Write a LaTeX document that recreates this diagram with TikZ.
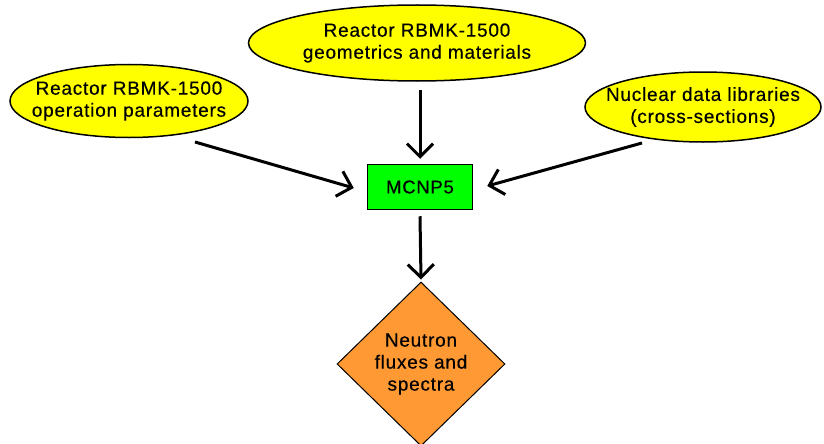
\documentclass[tikz,border=0pt]{standalone}
\usepackage{fontspec}
\setmainfont{Liberation Sans}[LetterSpace=4,FakeBold=0.4]
\usetikzlibrary{shapes.geometric,arrows.meta,calc}
\definecolor{ellfill}{RGB}{255,255,0}
\definecolor{boxfill}{RGB}{0,255,0}
\definecolor{diafill}{RGB}{255,153,51}
\begin{document}
\begin{tikzpicture}[x=1pt,y=-1pt,
  txt/.style={align=center,inner sep=0pt,font=\fontsize{19}{22}\selectfont},
  ell/.style={ellipse,draw=black,line width=1.5pt,fill=ellfill,inner sep=0pt},
  procbox/.style={rectangle,draw=black,line width=1.5pt,fill=boxfill,inner sep=0pt,minimum width=105pt,minimum height=45pt,font=\fontsize{18.5}{20}\selectfont},
  result/.style={diamond,draw=black,line width=1pt,fill=diafill,inner sep=0pt,minimum width=168pt,minimum height=164pt},
  flow/.style={line width=3pt,-{Straight Barb[length=13pt,width=26pt]}}]
\clip (0,0) rectangle (824,444);
\fill[white] (0,0) rectangle (824,444);
\node[ell,minimum width=238pt,minimum height=73pt,label={[txt]center:Reactor RBMK-1500\\operation parameters}] (op) at (129,101) {};
\node[ell,minimum width=337pt,minimum height=76pt,label={[txt]center:Reactor RBMK-1500\\geometrics and materials}] (geo) at (417,43) {};
\node[ell,minimum width=236pt,minimum height=70pt,label={[txt]center:Nuclear data libraries\\(cross-sections)}] (nuc) at (703,107) {};
\node[procbox] (mc) at (420,187) {MCNP5};
\node[result,label={[txt]center:Neutron\\fluxes and\\spectra}] (nf) at (421,364) {};
\draw[flow] ([shift={(3pt,-8pt)}]geo.south) -- ([yshift=5pt]mc.north);
\draw[flow] ([shift={(66pt,-41pt)}]op.center) -- ([shift={(-13pt,-1pt)}]mc.west);
\draw[flow] ([shift={(-61pt,-36pt)}]nuc.center) -- ([shift={(14pt,1pt)}]mc.east);
\draw[flow] ([yshift=-6pt]mc.south) -- ([yshift=2pt]nf.north);
\end{tikzpicture}
\end{document}
